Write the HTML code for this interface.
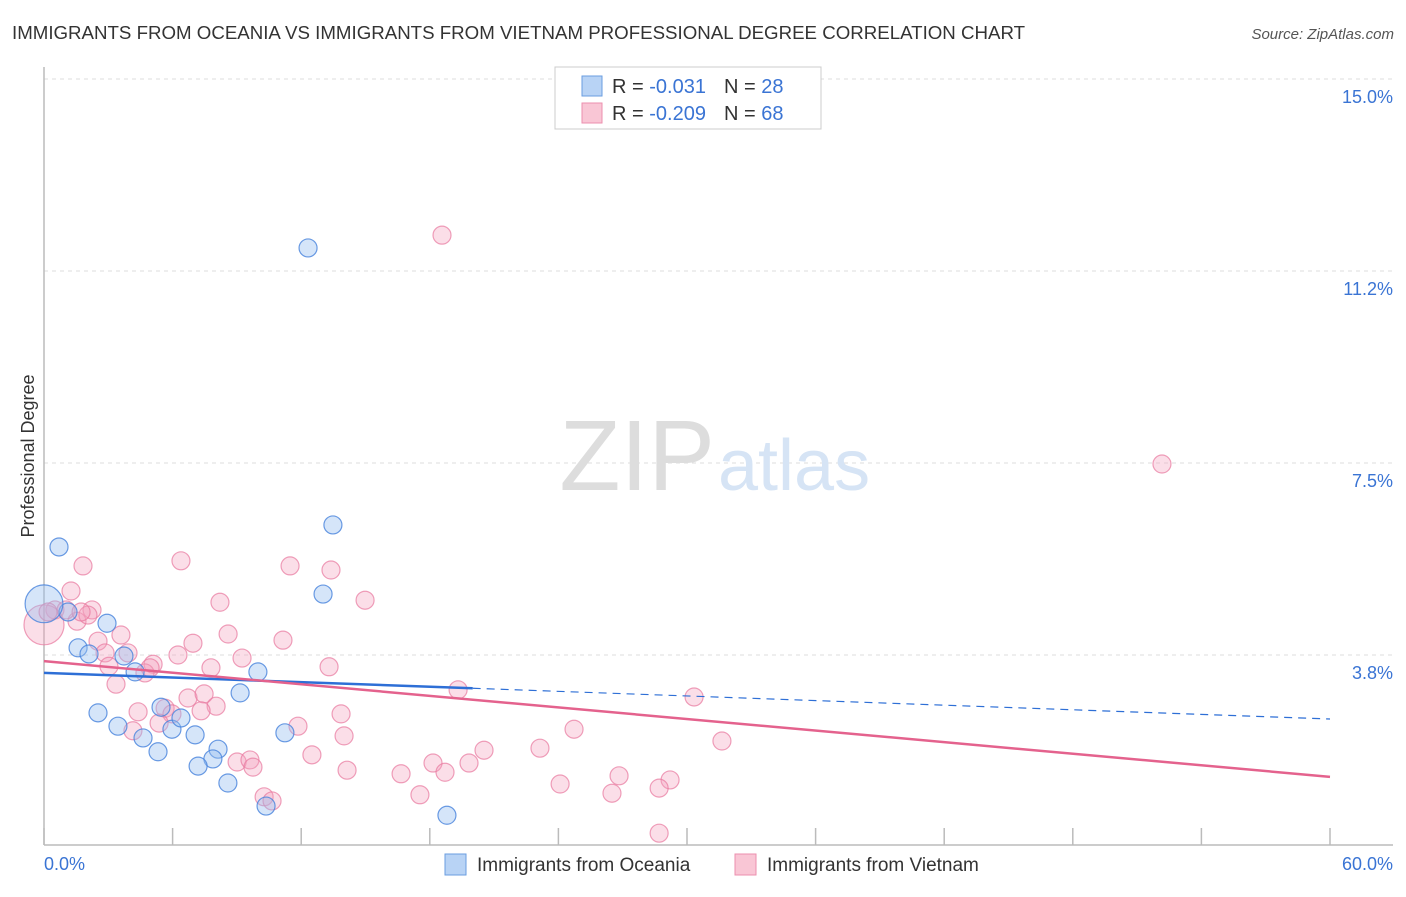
<!DOCTYPE html>
<html><head><meta charset="utf-8"><style>
body{margin:0;background:#fff;font-family:"Liberation Sans",sans-serif}
svg text{font-family:"Liberation Sans",sans-serif}
</style></head><body>
<svg id="c" width="1406" height="892" viewBox="0 0 1406 892" xmlns="http://www.w3.org/2000/svg">
<text x="12" y="39" font-size="18.7" fill="#333">IMMIGRANTS FROM OCEANIA VS IMMIGRANTS FROM VIETNAM PROFESSIONAL DEGREE CORRELATION CHART</text>
<text x="1394" y="39" font-size="15" fill="#555" text-anchor="end" font-style="italic">Source: ZipAtlas.com</text>
<g id="grid"></g>
<text x="715" y="490" font-size="100" fill="#ddd" text-anchor="end" font-family="Liberation Serif">ZIP</text>
<text x="718" y="490" font-size="72" fill="#d6e4f5">atlas</text>
<text transform="translate(34,456) rotate(-90)" font-size="18" fill="#333" text-anchor="middle">Professional Degree</text>
<g id="marks"></g>
<g>
<rect x="555" y="67" width="266" height="62" fill="#fff" stroke="#ccc"/>
<rect x="582" y="76" width="20" height="20" fill="#b8d3f5" stroke="#6a9ee0"/>
<rect x="582" y="103" width="20" height="20" fill="#f9c6d5" stroke="#ec8fae"/>
<text x="612" y="93" font-size="20" fill="#333">R = <tspan fill="#3a74d4">-0.031</tspan><tspan dx="18">N = </tspan><tspan fill="#3a74d4">28</tspan></text>
<text x="612" y="120" font-size="20" fill="#333">R = <tspan fill="#3a74d4">-0.209</tspan><tspan dx="18">N = </tspan><tspan fill="#3a74d4">68</tspan></text>
</g>
<g>
<rect x="445" y="854" width="21" height="21" fill="#b8d3f5" stroke="#6a9ee0"/>
<text x="477" y="871" font-size="19" fill="#333">Immigrants from Oceania</text>
<rect x="735" y="854" width="21" height="21" fill="#f9c6d5" stroke="#ec8fae"/>
<text x="767" y="871" font-size="19" fill="#333">Immigrants from Vietnam</text>
</g>
</svg>
<script>
const yTicks=[3.75,7.5,11.25,15];
const yTickLabels=["3.8%","7.5%","11.2%","15.0%"];
const xTicks=[0,6,12,18,24,30,36,42,48,54,60];
const xTickLabels=["0.0%","60.0%"];
const blueX=[0.70,1.12,2.94,1.59,2.10,3.73,4.25,9.98,2.52,3.45,4.62,5.32,5.46,5.97,6.39,7.05,8.12,7.88,7.19,8.58,9.15,10.36,11.24,12.32,13.48,13.02,18.80,0];
const blueY=[5.86,4.59,4.37,3.89,3.77,3.73,3.42,3.42,2.62,2.36,2.13,1.86,2.73,2.30,2.52,2.19,1.91,1.72,1.58,1.25,3.01,0.80,2.23,11.70,6.29,4.94,0.62,4.75];
const blueSize=[1,1,1,1,1,1,1,1,1,1,1,1,1,1,1,1,1,1,1,1,1,1,1,1,1,1,1,2.1];
const pinkX=[1.82,6.39,11.48,13.39,1.26,14.98,8.21,2.24,0.51,1.54,2.05,8.59,3.59,11.15,2.52,6.95,6.25,2.85,3.92,9.24,5.09,3.03,7.79,13.30,4.71,3.36,19.32,6.72,7.47,8.03,7.33,5.65,13.86,4.39,5.97,14.00,11.85,4.15,5.37,12.50,9.01,9.61,9.75,14.14,16.66,18.15,18.71,19.83,20.53,17.54,10.27,10.64,18.57,52.16,30.33,24.73,23.14,31.63,24.08,26.83,26.50,29.21,28.70,28.70,0,0.19,1.03,4.95,1.73];
const pinkY=[5.49,5.59,5.49,5.41,5.00,4.82,4.78,4.63,4.63,4.41,4.53,4.16,4.14,4.04,4.02,3.98,3.75,3.79,3.79,3.69,3.57,3.53,3.50,3.52,3.40,3.18,3.07,2.91,2.99,2.75,2.66,2.71,2.60,2.64,2.60,2.17,2.36,2.27,2.42,1.80,1.66,1.70,1.56,1.50,1.43,1.64,1.46,1.64,1.89,1.02,0.98,0.90,11.95,7.48,2.93,2.30,1.93,2.07,1.23,1.39,1.05,1.31,1.15,0.27,4.34,4.59,4.63,3.50,4.59];
const blueTrend=[3.40,2.50];
const pinkTrend=[3.63,1.37];
const blueSolidEnd=20;
const X=v=>44+v/60*1286, Y=v=>847-v/3.75*192;
const ns="http://www.w3.org/2000/svg";
function mk(t,a,p){const e=document.createElementNS(ns,t);for(const k in a)e.setAttribute(k,a[k]);(p||document.getElementById('marks')).appendChild(e);return e;}
const g=document.getElementById('grid');
yTicks.forEach((t,i)=>{
 const l=mk('line',{x1:44,x2:1393,y1:Y(t),y2:Y(t),stroke:'#ddd','stroke-dasharray':'4,4'},g);
 
 
 const tx=mk('text',{x:1393,y:Y(t)+24,'font-size':18,fill:'#3a74d4','text-anchor':'end'},g);tx.textContent=yTickLabels[i];
 
 
});
const ax=mk('line',{x1:44,x2:44,y1:67,y2:845,stroke:'#bbb','stroke-width':1.5},g);


const bx=mk('line',{x1:44,x2:1393,y1:845,y2:845,stroke:'#bbb','stroke-width':1.5},g);


xTicks.forEach(t=>{const l=mk('line',{x1:X(t),x2:X(t),y1:828,y2:845,stroke:'#bbb','stroke-width':1.5},g);
 
 });
let t1=mk('text',{x:44,y:870,'font-size':18,fill:'#3a74d4'},g);t1.textContent=xTickLabels[0];


let t2=mk('text',{x:1393,y:870,'font-size':18,fill:'#3a74d4','text-anchor':'end'},g);t2.textContent=xTickLabels[1];


pinkX.forEach((x,i)=>{const c=mk('circle',{cx:X(x),cy:Y(pinkY[i]),r:(i==64?20:9),fill:'rgba(244,160,188,0.35)',stroke:'rgba(232,120,158,0.7)','stroke-width':1.2});
 
 });
blueX.forEach((x,i)=>{const c=mk('circle',{cx:X(x),cy:Y(blueY[i]),r:9*blueSize[i],fill:'rgba(150,190,240,0.4)',stroke:'rgba(70,130,220,0.8)','stroke-width':1.2});
 
 });
const by=x=>blueTrend[0]+(blueTrend[1]-blueTrend[0])*x/60;
let l1=mk('line',{x1:X(0),y1:Y(by(0)),x2:X(blueSolidEnd),y2:Y(by(blueSolidEnd)),stroke:'#2e6fd6','stroke-width':2.5});


let l2=mk('line',{x1:X(blueSolidEnd),y1:Y(by(blueSolidEnd)),x2:X(60),y2:Y(by(60)),stroke:'#2e6fd6','stroke-width':1.2,'stroke-dasharray':'8,6'});


let l3=mk('line',{x1:X(0),y1:Y(pinkTrend[0]),x2:X(60),y2:Y(pinkTrend[1]),stroke:'#e4628d','stroke-width':2.5});


</script>
</body></html>
